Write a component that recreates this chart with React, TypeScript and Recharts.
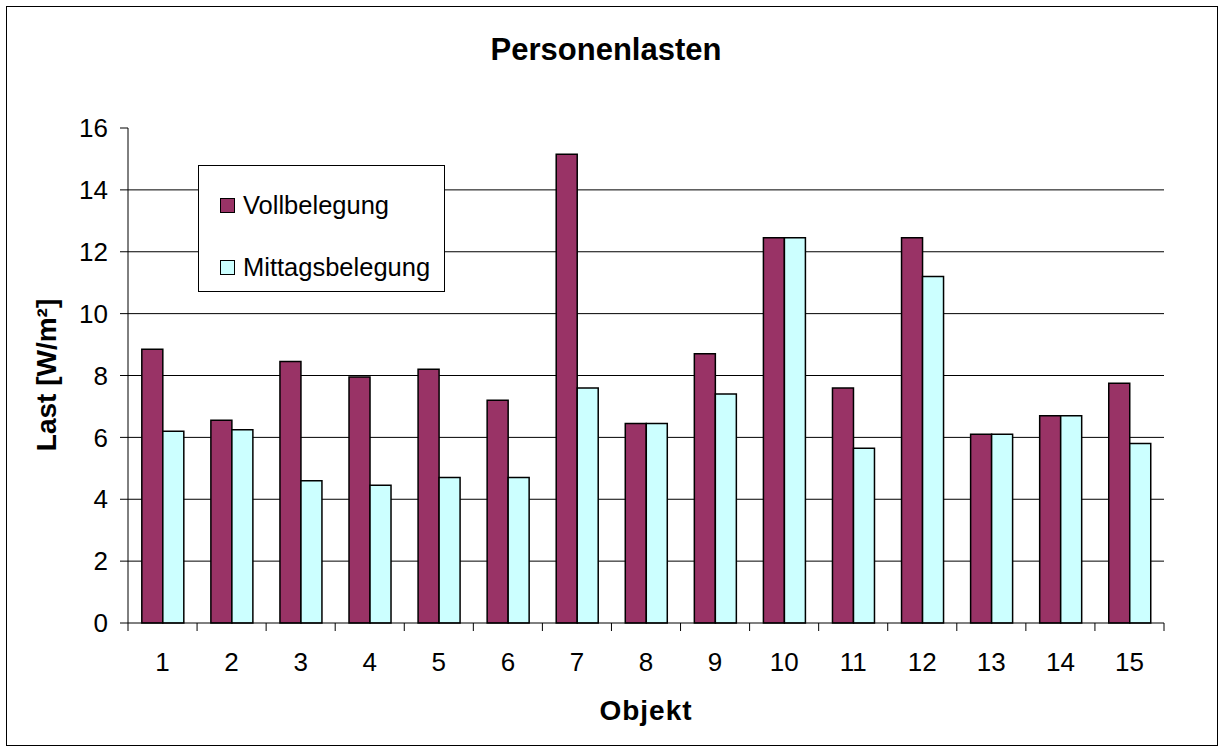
import React from "react";
import {
  Bar,
  BarChart,
  CartesianGrid,
  Legend,
  XAxis,
  YAxis,
} from "recharts";

// Objekt-Nummern und Lasten [W/m²]
const objekte = ["1", "2", "3", "4", "5", "6", "7", "8", "9", "10", "11", "12", "13", "14", "15"];
const vollbelegung = [8.85, 6.55, 8.45, 7.95, 8.2, 7.2, 15.15, 6.45, 8.7, 12.45, 7.6, 12.45, 6.1, 6.7, 7.75];
const mittagsbelegung = [6.2, 6.25, 4.6, 4.45, 4.7, 4.7, 7.6, 6.45, 7.4, 12.45, 5.65, 11.2, 6.1, 6.7, 5.8];
const yTicks = [0, 2, 4, 6, 8, 10, 12, 14, 16];
const gridValues = [2, 4, 6, 8, 10, 12, 14];

const data = objekte.map((objekt, i) => ({
  objekt,
  voll: vollbelegung[i],
  mittag: mittagsbelegung[i],
}));

const FONT = '"Liberation Sans", Arial, sans-serif';
const W = 1220;
const H = 748;
const PLOT_LEFT = 128;
const PLOT_RIGHT = 1164;
const PLOT_TOP = 128;
const PLOT_BOTTOM = 623;
const BAND = (PLOT_RIGHT - PLOT_LEFT) / objekte.length;
const X_TICK_SIZE = 8;
const X_TICK_MARGIN = 22;

const VOLL = "#993366";
const MITTAG = "#CCFFFF";

// Beschriftung mittig, Teilstriche zwischen den Kategorien (wie in Excel)
const ObjektTick = (props: any) => {
  const { x, y, payload, index } = props;
  const axisY = y - X_TICK_SIZE - X_TICK_MARGIN;
  const half = BAND / 2;
  return (
    <g>
      <line x1={x - half} x2={x - half} y1={axisY} y2={axisY + X_TICK_SIZE} stroke="#000" />
      {index === objekte.length - 1 && (
        <line x1={x + half} x2={x + half} y1={axisY} y2={axisY + X_TICK_SIZE} stroke="#000" />
      )}
      <text x={x} y={y} dy="0.71em" textAnchor="middle" fill="#000" fontSize={26} fontFamily={FONT}>
        {payload.value}
      </text>
    </g>
  );
};

const LegendBox = () => (
  <div
    style={{
      width: 245,
      height: 125,
      border: "1px solid #000",
      background: "#fff",
      fontFamily: FONT,
      fontSize: 25.5,
      color: "#000",
      position: "relative",
    }}
  >
    {[
      { label: "Vollbelegung", color: VOLL, top: 24 },
      { label: "Mittagsbelegung", color: MITTAG, top: 86 },
    ].map((it) => (
      <div key={it.label} style={{ position: "absolute", left: 21, top: it.top, display: "flex", alignItems: "center" }}>
        <span
          style={{
            display: "inline-block",
            width: 13,
            height: 13,
            border: "1.5px solid #000",
            background: it.color,
            marginRight: 8,
          }}
        />
        <span style={{ lineHeight: "30px" }}>{it.label}</span>
      </div>
    ))}
  </div>
);

export default function App() {
  return (
    <div style={{ position: "absolute", left: 0, top: 0, width: W, height: H, background: "#fff" }}>
      <div
        style={{
          position: "absolute",
          left: 6,
          top: 6,
          width: 1210,
          height: 738,
          border: "1px solid #000",
        }}
      />
      <div
        style={{
          position: "absolute",
          left: 0,
          width: W - 8,
          top: 32,
          textAlign: "center",
          fontFamily: FONT,
          fontWeight: "bold",
          fontSize: 31,
        }}
      >
        Personenlasten
      </div>
      <div
        style={{
          position: "absolute",
          left: 47,
          top: 375,
          transform: "translate(-50%, -50%) rotate(-90deg)",
          whiteSpace: "nowrap",
          fontFamily: FONT,
          fontWeight: "bold",
          fontSize: 28,
        }}
      >
        Last [W/m²]
      </div>
      <div
        style={{
          position: "absolute",
          left: 646,
          top: 711,
          transform: "translate(-50%, -50%)",
          whiteSpace: "nowrap",
          fontFamily: FONT,
          fontWeight: "bold",
          fontSize: 28,
          letterSpacing: 1,
        }}
      >
        Objekt
      </div>
      <BarChart
        width={W}
        height={H}
        data={data}
        margin={{ top: PLOT_TOP, right: W - PLOT_RIGHT, bottom: H - PLOT_BOTTOM - 60, left: PLOT_LEFT - 80 }}
        barCategoryGap="20%"
        barGap={0}
        style={{ position: "absolute", left: 0, top: 0 }}
      >
        <CartesianGrid
          vertical={false}
          horizontalValues={gridValues}
          stroke="#000"
          yAxisId="left"
          xAxisId="bottom"
        />
        <XAxis
          xAxisId="bottom"
          dataKey="objekt"
          height={60}
          interval={0}
          axisLine={{ stroke: "#000" }}
          tickLine={false}
          tickSize={X_TICK_SIZE}
          tickMargin={X_TICK_MARGIN}
          tick={<ObjektTick />}
        />
        <XAxis
          xAxisId="top"
          orientation="top"
          dataKey="objekt"
          height={0}
          tick={false}
          tickLine={false}
          axisLine={{ stroke: "#888" }}
        />
        <YAxis
          yAxisId="left"
          width={80}
          domain={[0, 16]}
          ticks={yTicks}
          interval={0}
          axisLine={{ stroke: "#000" }}
          tickLine={{ stroke: "#000" }}
          tickSize={8}
          tickMargin={12}
          tick={{ fill: "#000", fontSize: 26, fontFamily: FONT }}
        />
        <YAxis
          yAxisId="right"
          orientation="right"
          width={0}
          domain={[0, 16]}
          tick={false}
          tickLine={false}
          axisLine={{ stroke: "#888" }}
        />
        <Legend
          layout="horizontal"
          align="center"
          verticalAlign="middle"
          content={<LegendBox />}
          wrapperStyle={{ position: "absolute", left: 198, top: 165, width: 247, height: 127 }}
        />
        <Bar
          dataKey="voll"
          name="Vollbelegung"
          xAxisId="bottom"
          yAxisId="left"
          fill={VOLL}
          stroke="#000"
          strokeWidth={1.5}
          isAnimationActive={false}
        />
        <Bar
          dataKey="mittag"
          name="Mittagsbelegung"
          xAxisId="bottom"
          yAxisId="left"
          fill={MITTAG}
          stroke="#000"
          strokeWidth={1.5}
          isAnimationActive={false}
        />
      </BarChart>
    </div>
  );
}
